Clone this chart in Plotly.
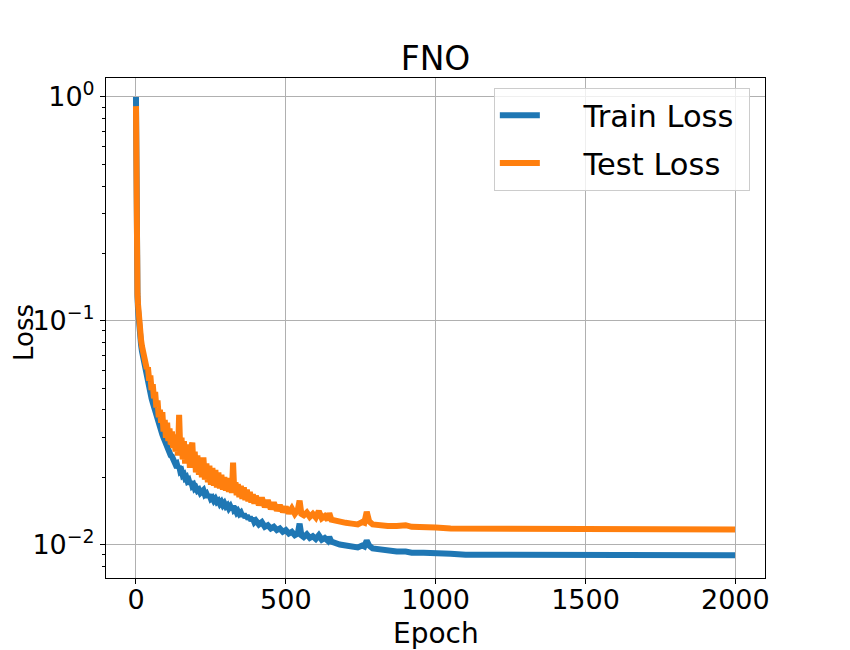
import plotly.graph_objects as go

# Epochs sampled from the training log (denser where the curves are noisy)
epochs = [0, 1, 3, 5, 7, 9, 11, 14, 17, 20, 24, 28, 32, 36, 40, 44, 48, 52, 56, 60,
          64, 68, 72, 76, 80, 84, 88, 92, 96, 100, 104, 108, 112, 116, 120, 124, 128, 132, 136, 140,
          144, 148, 152, 156, 160, 164, 168, 172, 176, 180, 184, 188, 192, 196, 200, 205, 210, 215, 220, 225,
          230, 235, 240, 245, 250, 255, 260, 265, 270, 275, 280, 285, 290, 295, 300, 305, 310, 315, 320, 324,
          328, 332, 336, 340, 345, 350, 355, 360, 365, 370, 375, 380, 385, 390, 395, 400, 410, 420, 430, 440,
          450, 460, 470, 480, 490, 500, 510, 520, 530, 540, 546, 552, 560, 570, 580, 590, 600, 610, 620, 630,
          640, 645, 652, 660, 680, 700, 720, 740, 755, 762, 770, 778, 790, 810, 840, 870, 900, 920, 960, 1000,
          1050, 1100, 1200, 1400, 1600, 1800, 1999]

train_loss = [1.00, 0.152, 0.145, 0.128, 0.112, 0.100, 0.092, 0.084, 0.078, 0.073, 0.068, 0.064, 0.060, 0.057, 0.053, 0.051, 0.047, 0.045, 0.043, 0.041,
              0.039, 0.037, 0.036, 0.034, 0.033, 0.032, 0.031, 0.030, 0.029, 0.028, 0.0275, 0.026, 0.0262, 0.025, 0.0248, 0.0238, 0.0240, 0.0228, 0.0230, 0.0220,
              0.0224, 0.0212, 0.0214, 0.0204, 0.0206, 0.0198, 0.0200, 0.0192, 0.0194, 0.0186, 0.0192, 0.0183, 0.0185, 0.0178, 0.0180, 0.0174, 0.0176, 0.0170, 0.0172, 0.0175,
              0.0167, 0.0169, 0.0163, 0.0167, 0.0160, 0.0162, 0.0157, 0.0160, 0.0155, 0.0157, 0.0152, 0.0155, 0.0150, 0.0153, 0.0148, 0.0150, 0.0145, 0.0148, 0.0143, 0.0149,
              0.0142, 0.0143, 0.0139, 0.0141, 0.0137, 0.0139, 0.0134, 0.0137, 0.0132, 0.0135, 0.0130, 0.0133, 0.0128, 0.0131, 0.0126, 0.0128, 0.0123, 0.0126, 0.0120, 0.0122,
              0.0118, 0.0120, 0.0116, 0.0118, 0.0114, 0.0116, 0.0112, 0.0114, 0.0110, 0.0112, 0.0124, 0.0110, 0.0108, 0.0111, 0.0107, 0.0109, 0.0106, 0.0110, 0.0105, 0.0107,
              0.0104, 0.0108, 0.0103, 0.0102, 0.0100, 0.0099, 0.0098, 0.0097, 0.0099, 0.0098, 0.0104, 0.0099, 0.0096, 0.0095, 0.0094, 0.0093, 0.0093, 0.0092, 0.0092, 0.0091,
              0.0091, 0.0090, 0.0090, 0.00897, 0.00896, 0.00896, 0.00896]

test_loss = [0.91, 0.155, 0.148, 0.132, 0.118, 0.104, 0.097, 0.089, 0.082, 0.077, 0.072, 0.069, 0.066, 0.061, 0.062, 0.054, 0.057, 0.049, 0.052, 0.045,
             0.048, 0.041, 0.044, 0.037, 0.040, 0.035, 0.039, 0.032, 0.036, 0.030, 0.035, 0.029, 0.033, 0.028, 0.032, 0.027, 0.031, 0.026, 0.030, 0.025,
             0.038, 0.026, 0.030, 0.024, 0.029, 0.023, 0.028, 0.023, 0.027, 0.022, 0.027, 0.0285, 0.022, 0.026, 0.021, 0.025, 0.0205, 0.024, 0.020, 0.0245,
             0.0195, 0.023, 0.019, 0.0225, 0.0185, 0.022, 0.0183, 0.0215, 0.018, 0.021, 0.0178, 0.0205, 0.0176, 0.020, 0.0174, 0.0198, 0.0172, 0.0195, 0.017, 0.0232,
             0.0172, 0.019, 0.0166, 0.0186, 0.0163, 0.0183, 0.016, 0.018, 0.0158, 0.0176, 0.0156, 0.0172, 0.0154, 0.0168, 0.0152, 0.0165, 0.015, 0.0162, 0.0147, 0.0158,
             0.0144, 0.0154, 0.0142, 0.0150, 0.0140, 0.0147, 0.0138, 0.0145, 0.0137, 0.0143, 0.0157, 0.0137, 0.0135, 0.0139, 0.0133, 0.0137, 0.0132, 0.0141, 0.0131, 0.0134,
             0.0129, 0.0138, 0.0129, 0.0128, 0.0127, 0.0125, 0.0124, 0.0123, 0.0126, 0.0125, 0.0140, 0.0127, 0.0123, 0.0122, 0.0121, 0.0121, 0.0122, 0.0120, 0.0120, 0.0119,
             0.0118, 0.0118, 0.01175, 0.01168, 0.01167, 0.01166, 0.01166]

font = "DejaVu Sans"
gap = "\u00a0" * 4  # space between the legend line and its label

fig = go.Figure()
fig.add_trace(go.Scatter(x=epochs, y=train_loss, mode="lines", name=gap + "Train Loss\u00a0",
                         legendgroup="train", line=dict(color="#1f77b4", width=6)))
fig.add_trace(go.Scatter(x=epochs, y=test_loss, mode="lines", name=gap + "Test Loss",
                         legendgroup="test", line=dict(color="#ff7f0e", width=6)))

axis_common = dict(showline=True, linecolor="black", linewidth=1, mirror=True,
                   ticks="outside", ticklen=5, tickcolor="black", automargin=False,
                   showgrid=True, gridcolor="#b0b0b0", gridwidth=1, zeroline=False,
                   tickfont=dict(family=font, size=27, color="black"))

fig.update_xaxes(range=[-100, 2099], tickvals=[0, 500, 1000, 1500, 2000],
                 ticklabelstandoff=-7, **axis_common)

minor_vals = [m * 10.0 ** e for e in (-3, -2, -1) for m in range(2, 10)]
fig.update_yaxes(type="log", range=[-2.1496, 0.0848],
                 tickvals=[0.01, 0.1, 1],
                 ticktext=["10<sup>\u22122</sup>", "10<sup>\u22121</sup>", "10<sup>0</sup>"],
                 minor=dict(tickvals=minor_vals, ticks="outside", ticklen=3, tickcolor="black", showgrid=False),
                 **axis_common)

# axis titles as annotations so they sit exactly where matplotlib put them
fig.add_annotation(text="Epoch", xref="paper", yref="paper", x=0.5, y=-0.1114,
                   xanchor="center", yanchor="middle", showarrow=False,
                   font=dict(family=font, size=28, color="black"))
fig.add_annotation(text="Loss", xref="paper", yref="paper", x=-0.1245, y=0.492,
                   xanchor="center", yanchor="middle", textangle=-90, showarrow=False,
                   borderpad=0, font=dict(family=font, size=26, color="black"))

# page body adds an 8px offset, so margins are shifted to compensate
fig.update_layout(
    width=850, height=650,
    margin=dict(l=98, r=93, t=70, b=80),
    paper_bgcolor="white", plot_bgcolor="white",
    title=dict(text="FNO", x=0.5, xref="paper", y=1 - 50 / 650, yanchor="middle",
               font=dict(family=font, size=33, color="black")),
    legend=dict(x=0.977, y=0.98, xanchor="right", yanchor="top",
                bgcolor="rgba(255,255,255,0.8)", bordercolor="#cccccc", borderwidth=1,
                itemwidth=40, tracegroupgap=5, traceorder="grouped",
                font=dict(family=font, size=30.5, color="black")),
    showlegend=True,
)

fig.write_html("out.html")
